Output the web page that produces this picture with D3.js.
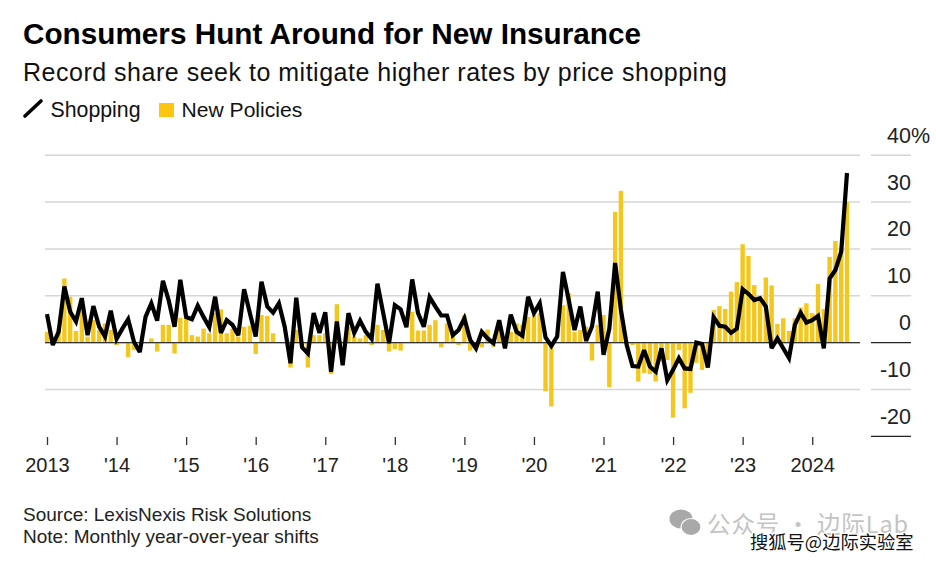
<!DOCTYPE html>
<html><head><meta charset="utf-8">
<script src="https://cdn.jsdelivr.net/npm/d3@7/dist/d3.min.js"></script>
<style>html,body{margin:0;padding:0;background:#fff}svg{display:block}text{font-family:"Liberation Sans",Arial,sans-serif}</style>
</head><body><svg id="c" width="936" height="562"></svg>
<script>
const tickYears = ["2013","'14","'15","'16","'17","'18","'19","'20","'21","'22","'23","2024"];
const yTicks = [-20,-10,0,10,20,30,40];
const shopping = [6.1,-0.5,2.3,12,6.6,4.5,9.5,1.6,7.8,3.4,1.3,6.8,
0.8,3,5,0.2,-2,5.5,8.4,4.7,13.2,9,3.4,13.4,
5.5,5,7.9,5.5,3.3,9.8,2.1,4.8,3.8,1.6,11.4,6.3,
1.3,13,7.7,6.4,8.4,3.4,-4.4,9.6,-1,-2.3,6.3,2.1,
6.5,-6.2,4.5,-4.8,6.3,2.1,4.7,2.3,0.8,12.6,6.3,-0.1,
8,7.1,3.3,13.5,6.3,3.4,9.7,7.7,5.8,5.8,1.6,2.7,
5.2,0.6,-1.2,2.3,0.9,-0.1,4.8,-1.2,6,2.3,1.5,9.8,
6.3,8.4,1.1,-0.7,1.3,15.1,9.1,2.7,7.7,0.4,3.4,10.9,
-2.6,3,17,7,-0.5,-5,-5.1,-1.6,-5.1,-6.2,-1.2,-8,
-5.8,-3.3,-5.5,-5.6,0,-0.3,-5.3,5.4,3.6,3.4,2.1,3,
11.4,10.4,9.1,9.5,7.7,-1.2,0.9,-1.2,-3.3,3.8,6.4,4.3,
4.8,5.7,-1.2,13.7,15.5,19.4,36.2];
const newPolicies = [2.3,0.2,3,13.7,9.8,2.5,7,1.3,4.8,2.7,4.1,2.7,
-0.5,0,-3.1,-1.6,0,0,0.9,-1.9,3.8,3.8,-2.3,5.3,
5.2,1.6,1.3,3,2,6.3,7.1,2,3,1.3,3.4,3.6,
-2.4,5.9,5.7,2,0,0,-5.3,2.7,-0.5,-5.3,1.6,1.6,
2,-6.7,8.2,0.2,3.4,1.3,0.9,1.6,-0.5,3.8,2.7,-1.9,
-1.4,-1.7,0.1,6.6,2.6,2.6,3.8,4.8,-1,4.1,1.4,-0.5,
5.9,-1.7,-1.2,-1,2.8,-0.9,2.7,0.3,2.3,4.1,3.8,5.5,
5.9,6.3,-10.4,-13.6,0,8,10.5,2.3,2.7,3.4,-3.8,3.8,
5.9,-9.5,27.9,32.4,0.2,-0.5,-8.3,-6.5,-6.7,-8.3,-4,-3.7,
-16,-1.6,-14,-10.7,-4.3,-5.8,-4.4,7,7.8,7.2,10.9,12.9,
21,18.5,12.3,9,13.9,12.2,4,5.2,2.5,5.2,7.5,8.4,
6.3,12.5,7.2,18.3,21.7,20,30];
const title = "Consumers Hunt Around for New Insurance";
const subtitle = "Record share seek to mitigate higher rates by price shopping";
const legendLabels = ["Shopping","New Policies"];
const notes = ["Source: LexisNexis Risk Solutions","Note: Monthly year-over-year shifts"];

const svg = d3.select("#c");
const x = d3.scaleLinear().domain([0,138]).range([47,847]);
const y = d3.scaleLinear().domain([-20,40]).range([436.4,155.2]);
const grid = "#d6d6d6", gold = "#f4c71e";

svg.append("text").attr("x",23).attr("y",44).attr("font-size",29.7).attr("font-weight",700).attr("fill","#000").attr("textLength",618).attr("lengthAdjust","spacing").text(title);
svg.append("text").attr("x",23).attr("y",81).attr("font-size",25).attr("fill","#111").attr("textLength",704).attr("lengthAdjust","spacing").text(subtitle);

svg.append("line").attr("x1",25).attr("y1",116).attr("x2",41).attr("y2",101).attr("stroke","#000").attr("stroke-width",3.6).attr("stroke-linecap","round");
svg.append("text").attr("x",50.5).attr("y",117).attr("font-size",21.3).attr("fill","#111").text(legendLabels[0]);
svg.append("rect").attr("x",159).attr("y",103).attr("width",15).attr("height",14).attr("fill","#fcc50f");
svg.append("text").attr("x",181.5).attr("y",117).attr("font-size",21.1).attr("fill","#111").text(legendLabels[1]);

const gridTicks = yTicks.filter(d=>d!==-20);
svg.append("g").selectAll("line").data(gridTicks).join("line")
  .attr("x1",45).attr("x2",860).attr("y1",d=>y(d)).attr("y2",d=>y(d))
  .attr("stroke",grid).attr("stroke-width",1.5);
svg.append("g").selectAll("line").data(yTicks).join("line")
  .attr("x1",871).attr("x2",911).attr("y1",d=>y(d)).attr("y2",d=>y(d))
  .attr("stroke",d=>(d===0||d===-20)?"#222":grid).attr("stroke-width",d=>(d===0||d===-20)?1.4:1.5);

const bw = 4.4;
svg.append("g").selectAll("rect").data(newPolicies).join("rect")
  .attr("x",(d,i)=>x(i)-bw/2).attr("width",bw)
  .attr("y",d=>Math.min(y(d),y(0))).attr("height",d=>Math.abs(y(d)-y(0)))
  .attr("fill",gold);

svg.append("line").attr("x1",45).attr("x2",860).attr("y1",y(0)).attr("y2",y(0)).attr("stroke","#333").attr("stroke-width",1.3);

svg.append("path").datum(shopping)
  .attr("fill","none").attr("stroke","#000").attr("stroke-width",4.2)
  .attr("stroke-linejoin","miter").attr("stroke-miterlimit",3)
  .attr("d",d3.line().x((d,i)=>x(i)).y(d=>y(d)));

svg.append("g").selectAll("text").data(yTicks).join("text")
  .attr("x",911).attr("y",d=>y(d)-12.5).attr("text-anchor","end")
  .attr("font-size",21.5).attr("fill","#222").text(d=>d);
svg.append("text").attr("x",911).attr("y",y(40)-12.5).attr("font-size",21.5).attr("fill","#222").text("%");

const tickIdx = tickYears.map((d,i)=>i*12);
const xg = svg.append("g").attr("transform","translate(0,437)")
  .call(d3.axisBottom(x).tickValues(tickIdx).tickSize(8).tickPadding(13).tickFormat((d,i)=>tickYears[i]));
xg.select(".domain").remove();
xg.selectAll("line").attr("stroke","#333").attr("stroke-width",1.3);
xg.selectAll("text").attr("font-size",20).attr("fill","#222").style("font-family",'"Liberation Sans",Arial,sans-serif');

svg.append("g").selectAll("text").data(notes).join("text")
  .attr("x",23).attr("y",(d,i)=>521+i*22).attr("font-size",19).attr("fill","#222").text(d=>d);

const wm = svg.append("g");
wm.append("ellipse").attr("cx",681).attr("cy",519).attr("rx",11.5).attr("ry",9.5).attr("fill","#a9a9a9");
wm.append("ellipse").attr("cx",691).attr("cy",527).attr("rx",10).attr("ry",8.5).attr("fill","#a9a9a9").attr("stroke","#fff").attr("stroke-width",1.2);
wm.append("text").attr("x",707).attr("y",533).attr("font-size",23.5).attr("letter-spacing",0.9).attr("fill","#c4c4c4").style("font-family",'"Noto Sans CJK SC"').text("公众号 · 边际Lab");
wm.append("text").attr("x",750).attr("y",549).attr("font-size",18.3).attr("fill","#111").attr("stroke","#fff").attr("stroke-width",2.6).attr("paint-order","stroke").style("font-family",'"Noto Sans CJK SC"').text("搜狐号@边际实验室");
</script></body></html>
